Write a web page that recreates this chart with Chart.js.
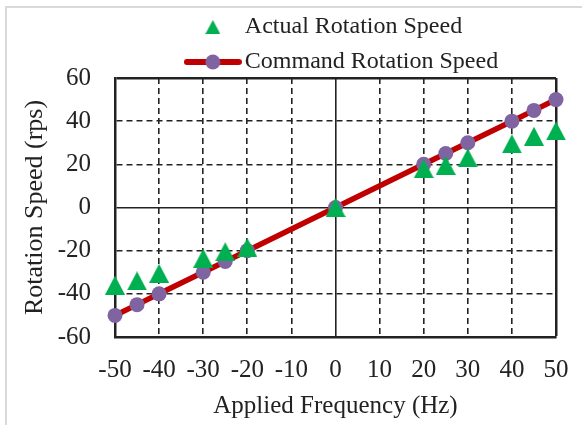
<!DOCTYPE html>
<html>
<head>
<meta charset="utf-8">
<script src="https://cdn.jsdelivr.net/npm/chart.js@4.4.0/dist/chart.umd.min.js"></script>
<style>
body { margin:0; background:#fff; }
#frame { position:absolute; left:5px; top:6px; width:600px; height:450px; border:2px solid #d9d9d9; }
#wrap { position:absolute; left:0; top:0; width:582px; height:425px; }
</style>
</head>
<body>
<div id="frame"></div>
<div id="wrap"><canvas id="canvas_1" width="582" height="425"></canvas></div>
<script>
// applied frequency (Hz) and measured / commanded speed (rps)
var freq = [-50, -45, -40, -30, -25, -20, 0, 20, 25, 30, 40, 45, 50];
var actualSpeed = [-36, -34, -30.5, -23.5, -20.5, -18.5, 0, 18, 19.5, 23, 29.5, 33, 35.5];
var commandSpeed = [-50, -45, -40, -30, -25, -20, 0, 20, 25, 30, 40, 45, 50];

var xTicks = [-50, -40, -30, -20, -10, 0, 10, 20, 30, 40, 50];
var yTicks = [-60, -40, -20, 0, 20, 40, 60];

var seriesNames = ['Actual Rotation Speed', 'Command Rotation Speed'];
var colors = ['#00B050', '#C00000', '#8064A2'];

var serif = '"Liberation Serif", "Times New Roman", serif';

function toPoints(xs, ys) {
	var pts = [];
	for (var i = 0; i < xs.length; i++) { pts.push({x: xs[i], y: ys[i]}); }
	return pts;
}

// excel style triangle marker (a bit taller than chart.js one)
function triangleIcon(w, h) {
	var c = document.createElement('canvas');
	c.width = w; c.height = h;
	var g = c.getContext('2d');
	g.fillStyle = colors[0];
	g.beginPath(); g.moveTo(w / 2, 0); g.lineTo(w, h); g.lineTo(0, h); g.closePath(); g.fill();
	return c;
}

// line + marker icon for the legend
function lineIcon() {
	var c = document.createElement('canvas');
	c.width = 58; c.height = 16;
	var g = c.getContext('2d');
	g.strokeStyle = colors[1];
	g.lineWidth = 6;
	g.lineCap = 'round';
	g.beginPath(); g.moveTo(3, 8); g.lineTo(55, 8); g.stroke();
	g.fillStyle = colors[2];
	g.beginPath(); g.arc(29, 8, 7.5, 0, Math.PI * 2); g.fill();
	return c;
}

function gridDash(ctx, last) {
	var v = ctx.tick ? ctx.tick.value : null;
	if (v === 0 || v === last) return [];
	return [6, 4];
}
function gridWidth(ctx, last) {
	var v = ctx.tick ? ctx.tick.value : null;
	if (v === last) return 2.5;
	return 1.6;
}

var markTri = triangleIcon(20, 19);
var legendTri = triangleIcon(15, 14);
var legendLine = lineIcon();

var chartData = {
	datasets: [
		{
			label: seriesNames[0],
			data: toPoints(freq, actualSpeed),
			showLine: false,
			clip: false,
			pointStyle: markTri,
			pointRadius: 10,
			pointHoverRadius: 10,
			pointBorderWidth: 0,
			backgroundColor: colors[0],
			borderColor: colors[0]
		},
		{
			label: seriesNames[1],
			data: toPoints(freq, commandSpeed),
			showLine: true,
			clip: false,
			borderColor: colors[1],
			borderWidth: 5.5,
			pointStyle: 'circle',
			pointRadius: 7.5,
			pointHoverRadius: 7.5,
			pointBackgroundColor: colors[2],
			pointBorderWidth: 0,
			backgroundColor: colors[2]
		}
	]
};

// excel keeps legend rows left aligned, and sits a bit lower
var legendTweak = {
	id: 'legendTweak',
	afterLayout: function(chart) {
		var lg = chart.legend;
		if (!lg || !lg.lineWidths) return;
		var w = Math.max.apply(null, lg.lineWidths) - 20;
		lg.lineWidths = lg.lineWidths.map(function() { return w; });
		lg.top += 6;
		lg.bottom += 6;
	}
};

var newChart = new Chart(document.getElementById('canvas_1'), {
	type: 'scatter',
	data: chartData,
	plugins: [legendTweak],
	options: {
		responsive: false,
		animation: false,
		layout: { padding: { top: -2, left: 0, right: 26, bottom: 0 } },
		plugins: {
			tooltip: { enabled: false },
			legend: {
				position: 'top',
				fullSize: false,
				labels: {
					usePointStyle: true,
					pointStyleWidth: 40,
					boxHeight: 13,
					padding: 11,
					color: '#222',
					font: { family: serif, size: 24 },
					generateLabels: function(chart) {
						return [
							{ text: seriesNames[0], pointStyle: legendTri, fillStyle: colors[0], strokeStyle: colors[0], lineWidth: 0, datasetIndex: 0, fontColor: '#222' },
							{ text: seriesNames[1], pointStyle: legendLine, fillStyle: colors[2], strokeStyle: colors[1], lineWidth: 0, datasetIndex: 1, fontColor: '#222' }
						];
					}
				}
			}
		},
		scales: {
			x: {
				type: 'linear',
				min: xTicks[0],
				max: xTicks[xTicks.length - 1],
				afterBuildTicks: function(scale) { scale.ticks = xTicks.map(function(v) { return {value: v}; }); },
				afterFit: function(scale) { scale.height = 88; },
				ticks: {
					color: '#222',
					font: { family: serif, size: 25 },
					padding: 10,
					maxRotation: 0,
					autoSkip: false,
					callback: function(v) { return String(v); }
				},
				grid: {
					color: '#222',
					lineWidth: function(ctx) { return gridWidth(ctx, 50); },
					drawTicks: true,
					tickLength: 8,
					tickColor: 'rgba(0,0,0,0)'
				},
				border: {
					display: true,
					color: '#222',
					width: 2.5,
					dash: function(ctx) { return gridDash(ctx, 50); }
				},
				title: {
					display: true,
					text: 'Applied Frequency (Hz)',
					color: '#222',
					font: { family: serif, size: 25 },
					padding: { top: 0, bottom: 4 }
				}
			},
			y: {
				type: 'linear',
				min: yTicks[0],
				max: yTicks[yTicks.length - 1],
				afterBuildTicks: function(scale) { scale.ticks = yTicks.map(function(v) { return {value: v}; }); },
				afterFit: function(scale) { scale.width = 115; },
				ticks: {
					color: '#222',
					font: { family: serif, size: 25 },
					padding: 24,
					callback: function(v) { return String(v); }
				},
				grid: {
					color: '#222',
					lineWidth: function(ctx) { return gridWidth(ctx, 60); },
					drawTicks: false
				},
				border: {
					display: true,
					color: '#222',
					width: 2.5,
					dash: function(ctx) { return gridDash(ctx, 60); }
				},
				title: {
					display: true,
					text: 'Rotation Speed (rps)',
					color: '#222',
					font: { family: serif, size: 26 },
					padding: { top: 20, bottom: 0 }
				}
			}
		}
	}
});
</script>
</body>
</html>
